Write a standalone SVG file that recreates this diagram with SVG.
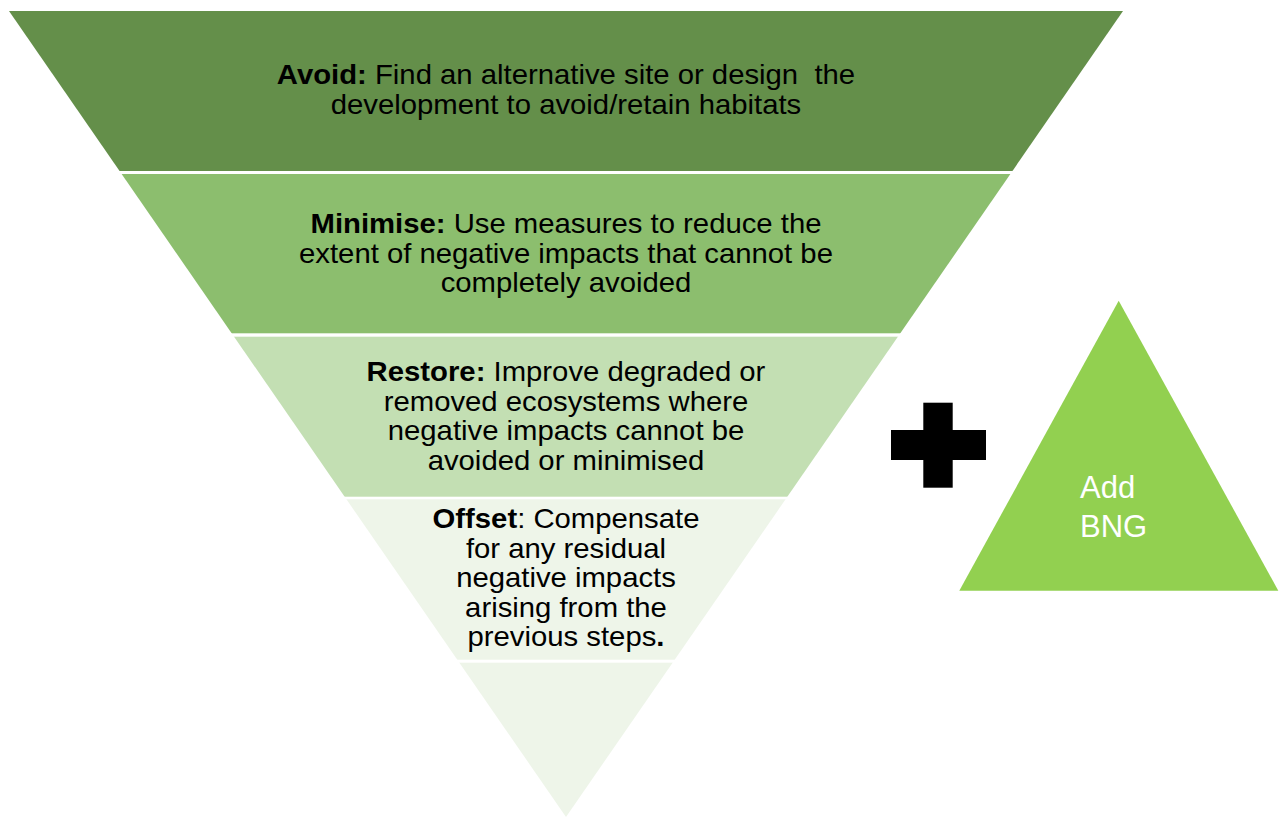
<svg xmlns="http://www.w3.org/2000/svg" width="1280" height="817" viewBox="0 0 1280 817">
  <style>
    .lbl { font-family: "Liberation Sans", Arial, sans-serif; font-size: 27px; fill: #000; text-anchor: middle; }
    .lbl .b { font-weight: bold; }
    .bng { font-family: "Liberation Sans", Arial, sans-serif; font-size: 31px; fill: #fff; }
  </style>
  <defs>
    <!-- inverted hierarchy triangle used to cut each band -->
    <clipPath id="tri">
      <polygon points="9,11 1123,11 566,817"/>
    </clipPath>
  </defs>
  <rect width="1280" height="817" fill="#fff"/>

  <g clip-path="url(#tri)">
    <rect id="band-avoid" x="0" y="0" width="1280" height="171" fill="#648f4a"/>
    <rect id="band-minimise" x="0" y="174" width="1280" height="159.3" fill="#8cbe6e"/>
    <rect id="band-restore" x="0" y="336.7" width="1280" height="160" fill="#c3dfb3"/>
    <rect id="band-offset" x="0" y="499.3" width="1280" height="160.4" fill="#eef5e9"/>
    <rect id="band-tip" x="0" y="662.7" width="1280" height="160" fill="#eef5e9"/>
  </g>

  <g id="avoid" transform="translate(566 0) scale(1.085 1) translate(-566 0)">
    <text class="lbl" xml:space="preserve"><tspan x="566" y="84"><tspan class="b">Avoid:</tspan> Find an alternative site or design  the</tspan><tspan x="566" y="114">development to avoid/retain habitats</tspan></text>
  </g>

  <g id="minimise" transform="translate(566 0) scale(1.085 1) translate(-566 0)">
    <text class="lbl"><tspan x="566" y="233.5"><tspan class="b">Minimise:</tspan> Use measures to reduce the</tspan><tspan x="566" y="263">extent of negative impacts that cannot be</tspan><tspan x="566" y="292.5">completely avoided</tspan></text>
  </g>

  <g id="restore" transform="translate(566 0) scale(1.085 1) translate(-566 0)">
    <text class="lbl"><tspan x="566" y="381.5"><tspan class="b">Restore:</tspan> Improve degraded or</tspan><tspan x="566" y="411">removed ecosystems where</tspan><tspan x="566" y="440.5">negative impacts cannot be</tspan><tspan x="566" y="470">avoided or minimised</tspan></text>
  </g>

  <g id="offset" transform="translate(566 0) scale(1.085 1) translate(-566 0)">
    <text class="lbl"><tspan x="566" y="528.5"><tspan class="b">Offset</tspan>: Compensate</tspan><tspan x="566" y="558">for any residual</tspan><tspan x="566" y="587.5">negative impacts</tspan><tspan x="566" y="617">arising from the</tspan><tspan x="566" y="646.5">previous steps<tspan class="b">.</tspan></tspan></text>
  </g>

  <g id="plus">
    <rect x="891" y="430" width="95" height="30" fill="#000"/>
    <rect x="923.3" y="402.7" width="29.4" height="85" fill="#000"/>
  </g>

  <g id="add-bng">
    <polygon points="1118.7,300.7 1278.3,590.7 959.3,590.7" fill="#92d050"/>
    <text class="bng"><tspan x="1080" y="498">Add</tspan><tspan x="1080" y="537.3">BNG</tspan></text>
  </g>
</svg>
